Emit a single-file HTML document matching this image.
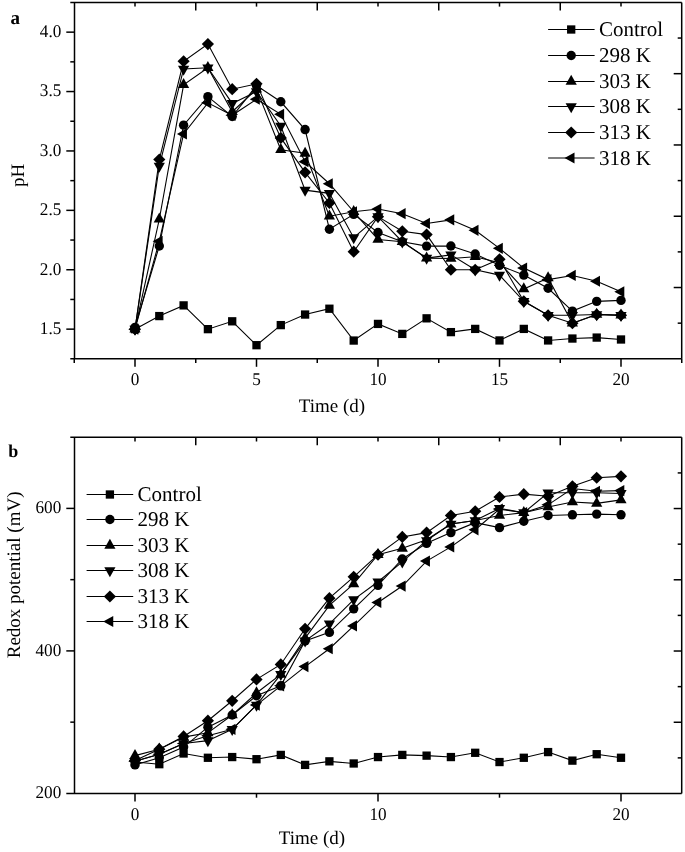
<!DOCTYPE html>
<html><head><meta charset="utf-8"><title>Figure</title>
<style>
html,body{margin:0;padding:0;background:#fff;}
body{width:685px;height:852px;overflow:hidden;font-family:"Liberation Serif",serif;}
svg{display:block;will-change:transform;}
text{text-rendering:geometricPrecision;}
text{font-family:"Liberation Serif",serif;}
</style></head><body>
<svg width="685" height="852" viewBox="0 0 685 852">
<rect width="685" height="852" fill="#fff"/>
<g stroke="#000" fill="#000" font-family="Liberation Serif, serif">
<polyline fill="none" stroke-width="1.1" points="135,329.15 159.3,316.08 183.6,305.39 207.9,329.15 232.2,321.31 256.5,345.19 280.8,325.11 305.1,314.54 329.4,308.72 353.7,340.55 378,323.92 402.3,333.9 426.6,318.34 450.9,332.12 475.2,328.91 499.5,340.44 523.8,328.91 548.1,340.44 572.4,338.54 596.7,337.58 621,339.49"/>
<polyline fill="none" stroke-width="1.1" points="135,327.37 159.3,245.99 183.6,125.17 207.9,96.66 232.2,116.5 256.5,85.61 280.8,101.77 305.1,129.57 329.4,229.24 353.7,214.39 378,232.45 402.3,241.71 426.6,246.11 450.9,245.99 475.2,254.07 499.5,265.35 523.8,275.1 548.1,288.28 572.4,311.09 596.7,301.35 621,300.4"/>
<polyline fill="none" stroke-width="1.1" points="135,329.15 159.3,219.26 183.6,84.78 207.9,67.79 232.2,111.75 256.5,89.17 280.8,149.76 305.1,153.33 329.4,216.17 353.7,211.78 378,239.46 402.3,241.71 426.6,258.11 450.9,258.46 475.2,256.68 499.5,262.62 523.8,289 548.1,277.95 572.4,323.21 596.7,314.54 621,315.25"/>
<polyline fill="none" stroke-width="1.1" points="135,329.15 159.3,166.04 183.6,68.98 207.9,67.79 232.2,103.43 256.5,91.55 280.8,126 305.1,190.15 329.4,193.36 353.7,237.67 378,216.65 402.3,241.71 426.6,258.11 450.9,254.9 475.2,269.75 499.5,275.1 523.8,301.35 548.1,315.25 572.4,315.25 596.7,314.54 621,315.25"/>
<polyline fill="none" stroke-width="1.1" points="135,329.15 159.3,159.5 183.6,61.26 207.9,44.03 232.2,89.17 256.5,83.83 280.8,137.88 305.1,172.33 329.4,202.98 353.7,251.69 378,216.65 402.3,231.26 426.6,234.59 450.9,269.75 475.2,269.75 499.5,259.3 523.8,301.35 548.1,315.25 572.4,323.21 596.7,314.54 621,315.25"/>
<polyline fill="none" stroke-width="1.1" points="135,329.15 159.3,241.24 183.6,133.96 207.9,102.84 232.2,115.31 256.5,99.27 280.8,114.36 305.1,161.64 329.4,183.74 353.7,211.78 378,209.04 402.3,213.68 426.6,223.42 450.9,219.85 475.2,230.31 499.5,248.37 523.8,268.09 548.1,279.61 572.4,275.45 596.7,281.27 621,291.73"/>
<g stroke="none">
<rect x="130.85" y="325" width="8.3" height="8.3"/>
<rect x="155.15" y="311.93" width="8.3" height="8.3"/>
<rect x="179.45" y="301.24" width="8.3" height="8.3"/>
<rect x="203.75" y="325" width="8.3" height="8.3"/>
<rect x="228.05" y="317.16" width="8.3" height="8.3"/>
<rect x="252.35" y="341.04" width="8.3" height="8.3"/>
<rect x="276.65" y="320.96" width="8.3" height="8.3"/>
<rect x="300.95" y="310.39" width="8.3" height="8.3"/>
<rect x="325.25" y="304.57" width="8.3" height="8.3"/>
<rect x="349.55" y="336.4" width="8.3" height="8.3"/>
<rect x="373.85" y="319.77" width="8.3" height="8.3"/>
<rect x="398.15" y="329.75" width="8.3" height="8.3"/>
<rect x="422.45" y="314.19" width="8.3" height="8.3"/>
<rect x="446.75" y="327.97" width="8.3" height="8.3"/>
<rect x="471.05" y="324.76" width="8.3" height="8.3"/>
<rect x="495.35" y="336.29" width="8.3" height="8.3"/>
<rect x="519.65" y="324.76" width="8.3" height="8.3"/>
<rect x="543.95" y="336.29" width="8.3" height="8.3"/>
<rect x="568.25" y="334.39" width="8.3" height="8.3"/>
<rect x="592.55" y="333.43" width="8.3" height="8.3"/>
<rect x="616.85" y="335.34" width="8.3" height="8.3"/>
</g>
<g stroke="none">
<circle cx="135" cy="327.37" r="4.7"/>
<circle cx="159.3" cy="245.99" r="4.7"/>
<circle cx="183.6" cy="125.17" r="4.7"/>
<circle cx="207.9" cy="96.66" r="4.7"/>
<circle cx="232.2" cy="116.5" r="4.7"/>
<circle cx="256.5" cy="85.61" r="4.7"/>
<circle cx="280.8" cy="101.77" r="4.7"/>
<circle cx="305.1" cy="129.57" r="4.7"/>
<circle cx="329.4" cy="229.24" r="4.7"/>
<circle cx="353.7" cy="214.39" r="4.7"/>
<circle cx="378" cy="232.45" r="4.7"/>
<circle cx="402.3" cy="241.71" r="4.7"/>
<circle cx="426.6" cy="246.11" r="4.7"/>
<circle cx="450.9" cy="245.99" r="4.7"/>
<circle cx="475.2" cy="254.07" r="4.7"/>
<circle cx="499.5" cy="265.35" r="4.7"/>
<circle cx="523.8" cy="275.1" r="4.7"/>
<circle cx="548.1" cy="288.28" r="4.7"/>
<circle cx="572.4" cy="311.09" r="4.7"/>
<circle cx="596.7" cy="301.35" r="4.7"/>
<circle cx="621" cy="300.4" r="4.7"/>
</g>
<g stroke="none">
<polygon points="135,322.48 140.6,332.48 129.4,332.48"/>
<polygon points="159.3,212.59 164.9,222.59 153.7,222.59"/>
<polygon points="183.6,78.11 189.2,88.11 178,88.11"/>
<polygon points="207.9,61.12 213.5,71.12 202.3,71.12"/>
<polygon points="232.2,105.08 237.8,115.08 226.6,115.08"/>
<polygon points="256.5,82.51 262.1,92.51 250.9,92.51"/>
<polygon points="280.8,143.1 286.4,153.1 275.2,153.1"/>
<polygon points="305.1,146.66 310.7,156.66 299.5,156.66"/>
<polygon points="329.4,209.5 335,219.5 323.8,219.5"/>
<polygon points="353.7,205.11 359.3,215.11 348.1,215.11"/>
<polygon points="378,232.79 383.6,242.79 372.4,242.79"/>
<polygon points="402.3,235.05 407.9,245.05 396.7,245.05"/>
<polygon points="426.6,251.44 432.2,261.44 421,261.44"/>
<polygon points="450.9,251.8 456.5,261.8 445.3,261.8"/>
<polygon points="475.2,250.02 480.8,260.02 469.6,260.02"/>
<polygon points="499.5,255.96 505.1,265.96 493.9,265.96"/>
<polygon points="523.8,282.33 529.4,292.33 518.2,292.33"/>
<polygon points="548.1,271.28 553.7,281.28 542.5,281.28"/>
<polygon points="572.4,316.54 578,326.54 566.8,326.54"/>
<polygon points="596.7,307.87 602.3,317.87 591.1,317.87"/>
<polygon points="621,308.58 626.6,318.58 615.4,318.58"/>
</g>
<g stroke="none">
<polygon points="129.4,325.82 140.6,325.82 135,335.82"/>
<polygon points="153.7,162.7 164.9,162.7 159.3,172.7"/>
<polygon points="178,65.64 189.2,65.64 183.6,75.64"/>
<polygon points="202.3,64.46 213.5,64.46 207.9,74.46"/>
<polygon points="226.6,100.1 237.8,100.1 232.2,110.1"/>
<polygon points="250.9,88.22 262.1,88.22 256.5,98.22"/>
<polygon points="275.2,122.67 286.4,122.67 280.8,132.67"/>
<polygon points="299.5,186.82 310.7,186.82 305.1,196.82"/>
<polygon points="323.8,190.03 335,190.03 329.4,200.03"/>
<polygon points="348.1,234.34 359.3,234.34 353.7,244.34"/>
<polygon points="372.4,213.31 383.6,213.31 378,223.31"/>
<polygon points="396.7,238.38 407.9,238.38 402.3,248.38"/>
<polygon points="421,254.77 432.2,254.77 426.6,264.77"/>
<polygon points="445.3,251.57 456.5,251.57 450.9,261.57"/>
<polygon points="469.6,266.42 480.8,266.42 475.2,276.42"/>
<polygon points="493.9,271.76 505.1,271.76 499.5,281.76"/>
<polygon points="518.2,298.02 529.4,298.02 523.8,308.02"/>
<polygon points="542.5,311.92 553.7,311.92 548.1,321.92"/>
<polygon points="566.8,311.92 578,311.92 572.4,321.92"/>
<polygon points="591.1,311.2 602.3,311.2 596.7,321.2"/>
<polygon points="615.4,311.92 626.6,311.92 621,321.92"/>
</g>
<g stroke="none">
<polygon points="135,323.05 141.1,329.15 135,335.25 128.9,329.15"/>
<polygon points="159.3,153.4 165.4,159.5 159.3,165.6 153.2,159.5"/>
<polygon points="183.6,55.16 189.7,61.26 183.6,67.36 177.5,61.26"/>
<polygon points="207.9,37.93 214,44.03 207.9,50.13 201.8,44.03"/>
<polygon points="232.2,83.07 238.3,89.17 232.2,95.27 226.1,89.17"/>
<polygon points="256.5,77.73 262.6,83.83 256.5,89.93 250.4,83.83"/>
<polygon points="280.8,131.78 286.9,137.88 280.8,143.98 274.7,137.88"/>
<polygon points="305.1,166.23 311.2,172.33 305.1,178.43 299,172.33"/>
<polygon points="329.4,196.88 335.5,202.98 329.4,209.08 323.3,202.98"/>
<polygon points="353.7,245.59 359.8,251.69 353.7,257.79 347.6,251.69"/>
<polygon points="378,210.55 384.1,216.65 378,222.75 371.9,216.65"/>
<polygon points="402.3,225.16 408.4,231.26 402.3,237.36 396.2,231.26"/>
<polygon points="426.6,228.49 432.7,234.59 426.6,240.69 420.5,234.59"/>
<polygon points="450.9,263.65 457,269.75 450.9,275.85 444.8,269.75"/>
<polygon points="475.2,263.65 481.3,269.75 475.2,275.85 469.1,269.75"/>
<polygon points="499.5,253.2 505.6,259.3 499.5,265.4 493.4,259.3"/>
<polygon points="523.8,295.25 529.9,301.35 523.8,307.45 517.7,301.35"/>
<polygon points="548.1,309.15 554.2,315.25 548.1,321.35 542,315.25"/>
<polygon points="572.4,317.11 578.5,323.21 572.4,329.31 566.3,323.21"/>
<polygon points="596.7,308.44 602.8,314.54 596.7,320.64 590.6,314.54"/>
<polygon points="621,309.15 627.1,315.25 621,321.35 614.9,315.25"/>
</g>
<g stroke="none">
<polygon points="128.33,329.15 138.33,323.55 138.33,334.75"/>
<polygon points="152.63,241.24 162.63,235.64 162.63,246.84"/>
<polygon points="176.93,133.96 186.93,128.36 186.93,139.56"/>
<polygon points="201.23,102.84 211.23,97.24 211.23,108.44"/>
<polygon points="225.53,115.31 235.53,109.71 235.53,120.91"/>
<polygon points="249.83,99.27 259.83,93.67 259.83,104.87"/>
<polygon points="274.13,114.36 284.13,108.76 284.13,119.96"/>
<polygon points="298.43,161.64 308.43,156.04 308.43,167.24"/>
<polygon points="322.73,183.74 332.73,178.14 332.73,189.34"/>
<polygon points="347.03,211.78 357.03,206.18 357.03,217.38"/>
<polygon points="371.33,209.04 381.33,203.44 381.33,214.64"/>
<polygon points="395.63,213.68 405.63,208.08 405.63,219.28"/>
<polygon points="419.93,223.42 429.93,217.82 429.93,229.02"/>
<polygon points="444.23,219.85 454.23,214.25 454.23,225.45"/>
<polygon points="468.53,230.31 478.53,224.71 478.53,235.91"/>
<polygon points="492.83,248.37 502.83,242.77 502.83,253.97"/>
<polygon points="517.13,268.09 527.13,262.49 527.13,273.69"/>
<polygon points="541.43,279.61 551.43,274.01 551.43,285.21"/>
<polygon points="565.73,275.45 575.73,269.85 575.73,281.05"/>
<polygon points="590.03,281.27 600.03,275.67 600.03,286.87"/>
<polygon points="614.33,291.73 624.33,286.13 624.33,297.33"/>
</g>
<line x1="74.5" y1="2.4" x2="74.5" y2="358.8" stroke-width="1.5"/>
<line x1="681.7" y1="2.4" x2="681.7" y2="358.8" stroke-width="1.5"/>
<line x1="70.3" y1="2.4" x2="681.7" y2="2.4" stroke-width="1.5"/>
<line x1="70.3" y1="358.8" x2="681.7" y2="358.8" stroke-width="1.5"/>
<line x1="66.3" y1="329.15" x2="74.5" y2="329.15" stroke-width="1.5"/>
<line x1="70.3" y1="299.45" x2="74.5" y2="299.45" stroke-width="1.5"/>
<line x1="66.3" y1="269.75" x2="74.5" y2="269.75" stroke-width="1.5"/>
<line x1="70.3" y1="240.05" x2="74.5" y2="240.05" stroke-width="1.5"/>
<line x1="66.3" y1="210.35" x2="74.5" y2="210.35" stroke-width="1.5"/>
<line x1="70.3" y1="180.65" x2="74.5" y2="180.65" stroke-width="1.5"/>
<line x1="66.3" y1="150.95" x2="74.5" y2="150.95" stroke-width="1.5"/>
<line x1="70.3" y1="121.25" x2="74.5" y2="121.25" stroke-width="1.5"/>
<line x1="66.3" y1="91.55" x2="74.5" y2="91.55" stroke-width="1.5"/>
<line x1="70.3" y1="61.85" x2="74.5" y2="61.85" stroke-width="1.5"/>
<line x1="66.3" y1="32.15" x2="74.5" y2="32.15" stroke-width="1.5"/>
<line x1="74.25" y1="358.8" x2="74.25" y2="363" stroke-width="1.5"/>
<line x1="135" y1="358.8" x2="135" y2="366.8" stroke-width="1.5"/>
<line x1="195.75" y1="358.8" x2="195.75" y2="363" stroke-width="1.5"/>
<line x1="256.5" y1="358.8" x2="256.5" y2="366.8" stroke-width="1.5"/>
<line x1="317.25" y1="358.8" x2="317.25" y2="363" stroke-width="1.5"/>
<line x1="378" y1="358.8" x2="378" y2="366.8" stroke-width="1.5"/>
<line x1="438.75" y1="358.8" x2="438.75" y2="363" stroke-width="1.5"/>
<line x1="499.5" y1="358.8" x2="499.5" y2="366.8" stroke-width="1.5"/>
<line x1="560.25" y1="358.8" x2="560.25" y2="363" stroke-width="1.5"/>
<line x1="621" y1="358.8" x2="621" y2="366.8" stroke-width="1.5"/>
<line x1="681.75" y1="358.8" x2="681.75" y2="363" stroke-width="1.5"/>
<line x1="135" y1="2.4" x2="135" y2="6.6" stroke-width="1.5"/>
<line x1="195.75" y1="2.4" x2="195.75" y2="10.4" stroke-width="1.5"/>
<line x1="256.5" y1="2.4" x2="256.5" y2="6.6" stroke-width="1.5"/>
<line x1="317.25" y1="2.4" x2="317.25" y2="10.4" stroke-width="1.5"/>
<line x1="378" y1="2.4" x2="378" y2="6.6" stroke-width="1.5"/>
<line x1="438.75" y1="2.4" x2="438.75" y2="10.4" stroke-width="1.5"/>
<line x1="499.5" y1="2.4" x2="499.5" y2="6.6" stroke-width="1.5"/>
<line x1="560.25" y1="2.4" x2="560.25" y2="10.4" stroke-width="1.5"/>
<line x1="621" y1="2.4" x2="621" y2="6.6" stroke-width="1.5"/>
<line x1="677.7" y1="38.04" x2="681.7" y2="38.04" stroke-width="1.5"/>
<line x1="673.7" y1="73.68" x2="681.7" y2="73.68" stroke-width="1.5"/>
<line x1="677.7" y1="109.32" x2="681.7" y2="109.32" stroke-width="1.5"/>
<line x1="673.7" y1="144.96" x2="681.7" y2="144.96" stroke-width="1.5"/>
<line x1="677.7" y1="180.6" x2="681.7" y2="180.6" stroke-width="1.5"/>
<line x1="673.7" y1="216.24" x2="681.7" y2="216.24" stroke-width="1.5"/>
<line x1="677.7" y1="251.88" x2="681.7" y2="251.88" stroke-width="1.5"/>
<line x1="673.7" y1="287.52" x2="681.7" y2="287.52" stroke-width="1.5"/>
<line x1="677.7" y1="323.16" x2="681.7" y2="323.16" stroke-width="1.5"/>
<g stroke="none">
<text x="0" y="0" font-size="17.2" text-anchor="end" font-weight="normal" stroke="none" transform="translate(61.3 333.95) scale(1 1.04)">1.5</text>
<text x="0" y="0" font-size="17.2" text-anchor="end" font-weight="normal" stroke="none" transform="translate(61.3 274.55) scale(1 1.04)">2.0</text>
<text x="0" y="0" font-size="17.2" text-anchor="end" font-weight="normal" stroke="none" transform="translate(61.3 215.15) scale(1 1.04)">2.5</text>
<text x="0" y="0" font-size="17.2" text-anchor="end" font-weight="normal" stroke="none" transform="translate(61.3 155.75) scale(1 1.04)">3.0</text>
<text x="0" y="0" font-size="17.2" text-anchor="end" font-weight="normal" stroke="none" transform="translate(61.3 96.35) scale(1 1.04)">3.5</text>
<text x="0" y="0" font-size="17.2" text-anchor="end" font-weight="normal" stroke="none" transform="translate(61.3 36.95) scale(1 1.04)">4.0</text>
<text x="0" y="0" font-size="17.2" text-anchor="middle" font-weight="normal" stroke="none" transform="translate(135 385.4) scale(1 1.04)">0</text>
<text x="0" y="0" font-size="17.2" text-anchor="middle" font-weight="normal" stroke="none" transform="translate(256.5 385.4) scale(1 1.04)">5</text>
<text x="0" y="0" font-size="17.2" text-anchor="middle" font-weight="normal" stroke="none" transform="translate(378 385.4) scale(1 1.04)">10</text>
<text x="0" y="0" font-size="17.2" text-anchor="middle" font-weight="normal" stroke="none" transform="translate(499.5 385.4) scale(1 1.04)">15</text>
<text x="0" y="0" font-size="17.2" text-anchor="middle" font-weight="normal" stroke="none" transform="translate(621 385.4) scale(1 1.04)">20</text>
<text x="332" y="411.7" font-size="19" text-anchor="middle" font-weight="normal" stroke="none" >Time (d)</text>
<text x="24" y="175.3" font-size="19" text-anchor="middle" font-weight="normal" stroke="none" transform="rotate(-90 24.0 175.3)">pH</text>
<text x="10.5" y="24.1" font-size="19" text-anchor="start" font-weight="bold" stroke="none" >a</text>
</g>
<line x1="548.1" y1="29.5" x2="594.6" y2="29.5" stroke-width="1.1"/>
<g stroke="none"><rect x="567.05" y="25.35" width="8.3" height="8.3"/></g>
<text x="599" y="36.1" font-size="21" text-anchor="start" font-weight="normal" stroke="none" >Control</text>
<line x1="548.1" y1="55.5" x2="594.6" y2="55.5" stroke-width="1.1"/>
<g stroke="none"><circle cx="571.2" cy="55.5" r="4.7"/></g>
<text x="599" y="62.1" font-size="21" text-anchor="start" font-weight="normal" stroke="none" >298 K</text>
<line x1="548.1" y1="81.5" x2="594.6" y2="81.5" stroke-width="1.1"/>
<g stroke="none"><polygon points="571.2,74.83 576.8,84.83 565.6,84.83"/></g>
<text x="599" y="88.1" font-size="21" text-anchor="start" font-weight="normal" stroke="none" >303 K</text>
<line x1="548.1" y1="106.5" x2="594.6" y2="106.5" stroke-width="1.1"/>
<g stroke="none"><polygon points="565.6,103.17 576.8,103.17 571.2,113.17"/></g>
<text x="599" y="113.1" font-size="21" text-anchor="start" font-weight="normal" stroke="none" >308 K</text>
<line x1="548.1" y1="132.5" x2="594.6" y2="132.5" stroke-width="1.1"/>
<g stroke="none"><polygon points="571.2,126.4 577.3,132.5 571.2,138.6 565.1,132.5"/></g>
<text x="599" y="139.1" font-size="21" text-anchor="start" font-weight="normal" stroke="none" >313 K</text>
<line x1="548.1" y1="158" x2="594.6" y2="158" stroke-width="1.1"/>
<g stroke="none"><polygon points="564.53,158 574.53,152.4 574.53,163.6"/></g>
<text x="599" y="164.6" font-size="21" text-anchor="start" font-weight="normal" stroke="none" >318 K</text>
<polyline fill="none" stroke-width="1.1" points="135,762.05 159.3,764.19 183.6,753.5 207.9,757.77 232.2,757.06 256.5,759.2 280.8,754.92 305.1,764.9 329.4,761.34 353.7,763.48 378,757.06 402.3,754.92 426.6,755.64 450.9,757.06 475.2,752.79 499.5,762.05 523.8,757.77 548.1,752.08 572.4,760.62 596.7,754.21 621,757.77"/>
<polyline fill="none" stroke-width="1.1" points="135,764.9 159.3,757.77 183.6,747.09 207.9,727.14 232.2,715.02 256.5,695.79 280.8,685.81 305.1,640.92 329.4,632.38 353.7,608.86 378,585.35 402.3,558.99 426.6,543.31 450.9,532.62 475.2,522.65 499.5,527.64 523.8,521.23 548.1,515.52 572.4,514.81 596.7,514.1 621,514.81"/>
<polyline fill="none" stroke-width="1.1" points="135,755.64 159.3,749.23 183.6,737.11 207.9,732.84 232.2,715.02 256.5,692.94 280.8,674.41 305.1,638.08 329.4,605.3 353.7,583.92 378,554.71 402.3,548.3 426.6,539.75 450.9,524.07 475.2,520.51 499.5,515.52 523.8,512.67 548.1,506.97 572.4,501.99 596.7,503.41 621,499.85"/>
<polyline fill="none" stroke-width="1.1" points="135,761.34 159.3,754.21 183.6,743.52 207.9,740.67 232.2,729.27 256.5,705.05 280.8,674.41 305.1,640.92 329.4,623.82 353.7,599.6 378,581.79 402.3,561.84 426.6,540.46 450.9,524.07 475.2,520.51 499.5,508.4 523.8,512.67 548.1,492.72 572.4,492.72 596.7,492.72 621,493.44"/>
<polyline fill="none" stroke-width="1.1" points="135,760.62 159.3,749.23 183.6,736.4 207.9,720.73 232.2,700.77 256.5,679.4 280.8,664.44 305.1,628.81 329.4,598.17 353.7,576.8 378,554.71 402.3,536.9 426.6,532.62 450.9,515.52 475.2,511.25 499.5,497 523.8,494.15 548.1,496.29 572.4,486.31 596.7,477.76 621,476.34"/>
<polyline fill="none" stroke-width="1.1" points="135,761.34 159.3,754.21 183.6,743.52 207.9,735.69 232.2,729.27 256.5,705.05 280.8,685.81 305.1,666.58 329.4,648.76 353.7,625.96 378,602.45 402.3,586.06 426.6,561.12 450.9,546.88 475.2,529.77 499.5,509.11 523.8,512.67 548.1,504.84 572.4,488.45 596.7,491.3 621,490.59"/>
<g stroke="none">
<rect x="130.85" y="757.9" width="8.3" height="8.3"/>
<rect x="155.15" y="760.04" width="8.3" height="8.3"/>
<rect x="179.45" y="749.35" width="8.3" height="8.3"/>
<rect x="203.75" y="753.62" width="8.3" height="8.3"/>
<rect x="228.05" y="752.91" width="8.3" height="8.3"/>
<rect x="252.35" y="755.05" width="8.3" height="8.3"/>
<rect x="276.65" y="750.77" width="8.3" height="8.3"/>
<rect x="300.95" y="760.75" width="8.3" height="8.3"/>
<rect x="325.25" y="757.19" width="8.3" height="8.3"/>
<rect x="349.55" y="759.33" width="8.3" height="8.3"/>
<rect x="373.85" y="752.91" width="8.3" height="8.3"/>
<rect x="398.15" y="750.77" width="8.3" height="8.3"/>
<rect x="422.45" y="751.49" width="8.3" height="8.3"/>
<rect x="446.75" y="752.91" width="8.3" height="8.3"/>
<rect x="471.05" y="748.64" width="8.3" height="8.3"/>
<rect x="495.35" y="757.9" width="8.3" height="8.3"/>
<rect x="519.65" y="753.62" width="8.3" height="8.3"/>
<rect x="543.95" y="747.93" width="8.3" height="8.3"/>
<rect x="568.25" y="756.48" width="8.3" height="8.3"/>
<rect x="592.55" y="750.06" width="8.3" height="8.3"/>
<rect x="616.85" y="753.62" width="8.3" height="8.3"/>
</g>
<g stroke="none">
<circle cx="135" cy="764.9" r="4.7"/>
<circle cx="159.3" cy="757.77" r="4.7"/>
<circle cx="183.6" cy="747.09" r="4.7"/>
<circle cx="207.9" cy="727.14" r="4.7"/>
<circle cx="232.2" cy="715.02" r="4.7"/>
<circle cx="256.5" cy="695.79" r="4.7"/>
<circle cx="280.8" cy="685.81" r="4.7"/>
<circle cx="305.1" cy="640.92" r="4.7"/>
<circle cx="329.4" cy="632.38" r="4.7"/>
<circle cx="353.7" cy="608.86" r="4.7"/>
<circle cx="378" cy="585.35" r="4.7"/>
<circle cx="402.3" cy="558.99" r="4.7"/>
<circle cx="426.6" cy="543.31" r="4.7"/>
<circle cx="450.9" cy="532.62" r="4.7"/>
<circle cx="475.2" cy="522.65" r="4.7"/>
<circle cx="499.5" cy="527.64" r="4.7"/>
<circle cx="523.8" cy="521.23" r="4.7"/>
<circle cx="548.1" cy="515.52" r="4.7"/>
<circle cx="572.4" cy="514.81" r="4.7"/>
<circle cx="596.7" cy="514.1" r="4.7"/>
<circle cx="621" cy="514.81" r="4.7"/>
</g>
<g stroke="none">
<polygon points="135,748.97 140.6,758.97 129.4,758.97"/>
<polygon points="159.3,742.56 164.9,752.56 153.7,752.56"/>
<polygon points="183.6,730.45 189.2,740.45 178,740.45"/>
<polygon points="207.9,726.17 213.5,736.17 202.3,736.17"/>
<polygon points="232.2,708.36 237.8,718.36 226.6,718.36"/>
<polygon points="256.5,686.27 262.1,696.27 250.9,696.27"/>
<polygon points="280.8,667.75 286.4,677.75 275.2,677.75"/>
<polygon points="305.1,631.41 310.7,641.41 299.5,641.41"/>
<polygon points="329.4,598.63 335,608.63 323.8,608.63"/>
<polygon points="353.7,577.26 359.3,587.26 348.1,587.26"/>
<polygon points="378,548.05 383.6,558.05 372.4,558.05"/>
<polygon points="402.3,541.63 407.9,551.63 396.7,551.63"/>
<polygon points="426.6,533.08 432.2,543.08 421,543.08"/>
<polygon points="450.9,517.41 456.5,527.41 445.3,527.41"/>
<polygon points="475.2,513.85 480.8,523.85 469.6,523.85"/>
<polygon points="499.5,508.86 505.1,518.86 493.9,518.86"/>
<polygon points="523.8,506.01 529.4,516.01 518.2,516.01"/>
<polygon points="548.1,500.31 553.7,510.31 542.5,510.31"/>
<polygon points="572.4,495.32 578,505.32 566.8,505.32"/>
<polygon points="596.7,496.75 602.3,506.75 591.1,506.75"/>
<polygon points="621,493.18 626.6,503.18 615.4,503.18"/>
</g>
<g stroke="none">
<polygon points="129.4,758 140.6,758 135,768"/>
<polygon points="153.7,750.88 164.9,750.88 159.3,760.88"/>
<polygon points="178,740.19 189.2,740.19 183.6,750.19"/>
<polygon points="202.3,737.34 213.5,737.34 207.9,747.34"/>
<polygon points="226.6,725.94 237.8,725.94 232.2,735.94"/>
<polygon points="250.9,701.72 262.1,701.72 256.5,711.72"/>
<polygon points="275.2,671.08 286.4,671.08 280.8,681.08"/>
<polygon points="299.5,637.59 310.7,637.59 305.1,647.59"/>
<polygon points="323.8,620.49 335,620.49 329.4,630.49"/>
<polygon points="348.1,596.27 359.3,596.27 353.7,606.27"/>
<polygon points="372.4,578.45 383.6,578.45 378,588.45"/>
<polygon points="396.7,558.5 407.9,558.5 402.3,568.5"/>
<polygon points="421,537.13 432.2,537.13 426.6,547.13"/>
<polygon points="445.3,520.74 456.5,520.74 450.9,530.74"/>
<polygon points="469.6,517.18 480.8,517.18 475.2,527.18"/>
<polygon points="493.9,505.07 505.1,505.07 499.5,515.07"/>
<polygon points="518.2,509.34 529.4,509.34 523.8,519.34"/>
<polygon points="542.5,489.39 553.7,489.39 548.1,499.39"/>
<polygon points="566.8,489.39 578,489.39 572.4,499.39"/>
<polygon points="591.1,489.39 602.3,489.39 596.7,499.39"/>
<polygon points="615.4,490.1 626.6,490.1 621,500.1"/>
</g>
<g stroke="none">
<polygon points="135,754.52 141.1,760.62 135,766.73 128.9,760.62"/>
<polygon points="159.3,743.12 165.4,749.23 159.3,755.33 153.2,749.23"/>
<polygon points="183.6,730.3 189.7,736.4 183.6,742.5 177.5,736.4"/>
<polygon points="207.9,714.62 214,720.73 207.9,726.83 201.8,720.73"/>
<polygon points="232.2,694.67 238.3,700.77 232.2,706.88 226.1,700.77"/>
<polygon points="256.5,673.3 262.6,679.4 256.5,685.5 250.4,679.4"/>
<polygon points="280.8,658.34 286.9,664.44 280.8,670.54 274.7,664.44"/>
<polygon points="305.1,622.71 311.2,628.81 305.1,634.91 299,628.81"/>
<polygon points="329.4,592.07 335.5,598.17 329.4,604.27 323.3,598.17"/>
<polygon points="353.7,570.7 359.8,576.8 353.7,582.9 347.6,576.8"/>
<polygon points="378,548.61 384.1,554.71 378,560.81 371.9,554.71"/>
<polygon points="402.3,530.8 408.4,536.9 402.3,543 396.2,536.9"/>
<polygon points="426.6,526.52 432.7,532.62 426.6,538.73 420.5,532.62"/>
<polygon points="450.9,509.42 457,515.52 450.9,521.62 444.8,515.52"/>
<polygon points="475.2,505.15 481.3,511.25 475.2,517.35 469.1,511.25"/>
<polygon points="499.5,490.9 505.6,497 499.5,503.1 493.4,497"/>
<polygon points="523.8,488.05 529.9,494.15 523.8,500.25 517.7,494.15"/>
<polygon points="548.1,490.19 554.2,496.29 548.1,502.39 542,496.29"/>
<polygon points="572.4,480.21 578.5,486.31 572.4,492.41 566.3,486.31"/>
<polygon points="596.7,471.66 602.8,477.76 596.7,483.86 590.6,477.76"/>
<polygon points="621,470.24 627.1,476.34 621,482.44 614.9,476.34"/>
</g>
<g stroke="none">
<polygon points="128.33,761.34 138.33,755.74 138.33,766.94"/>
<polygon points="152.63,754.21 162.63,748.61 162.63,759.81"/>
<polygon points="176.93,743.52 186.93,737.92 186.93,749.12"/>
<polygon points="201.23,735.69 211.23,730.09 211.23,741.29"/>
<polygon points="225.53,729.27 235.53,723.67 235.53,734.88"/>
<polygon points="249.83,705.05 259.83,699.45 259.83,710.65"/>
<polygon points="274.13,685.81 284.13,680.21 284.13,691.41"/>
<polygon points="298.43,666.58 308.43,660.98 308.43,672.18"/>
<polygon points="322.73,648.76 332.73,643.16 332.73,654.36"/>
<polygon points="347.03,625.96 357.03,620.36 357.03,631.56"/>
<polygon points="371.33,602.45 381.33,596.85 381.33,608.05"/>
<polygon points="395.63,586.06 405.63,580.46 405.63,591.66"/>
<polygon points="419.93,561.12 429.93,555.52 429.93,566.73"/>
<polygon points="444.23,546.88 454.23,541.27 454.23,552.48"/>
<polygon points="468.53,529.77 478.53,524.17 478.53,535.38"/>
<polygon points="492.83,509.11 502.83,503.51 502.83,514.71"/>
<polygon points="517.13,512.67 527.13,507.07 527.13,518.27"/>
<polygon points="541.43,504.84 551.43,499.24 551.43,510.44"/>
<polygon points="565.73,488.45 575.73,482.85 575.73,494.05"/>
<polygon points="590.03,491.3 600.03,485.7 600.03,496.9"/>
<polygon points="614.33,490.59 624.33,484.99 624.33,496.19"/>
</g>
<line x1="74.5" y1="437.3" x2="74.5" y2="793.5" stroke-width="1.5"/>
<line x1="681.7" y1="437.3" x2="681.7" y2="793.5" stroke-width="1.5"/>
<line x1="70.3" y1="437.3" x2="681.7" y2="437.3" stroke-width="1.5"/>
<line x1="66.3" y1="793.5" x2="681.7" y2="793.5" stroke-width="1.5"/>
<line x1="70.3" y1="722.15" x2="74.5" y2="722.15" stroke-width="1.5"/>
<line x1="66.3" y1="650.9" x2="74.5" y2="650.9" stroke-width="1.5"/>
<line x1="70.3" y1="579.65" x2="74.5" y2="579.65" stroke-width="1.5"/>
<line x1="66.3" y1="508.4" x2="74.5" y2="508.4" stroke-width="1.5"/>
<line x1="135" y1="793.5" x2="135" y2="801.5" stroke-width="1.5"/>
<line x1="256.5" y1="793.5" x2="256.5" y2="797.7" stroke-width="1.5"/>
<line x1="378" y1="793.5" x2="378" y2="801.5" stroke-width="1.5"/>
<line x1="499.5" y1="793.5" x2="499.5" y2="797.7" stroke-width="1.5"/>
<line x1="621" y1="793.5" x2="621" y2="801.5" stroke-width="1.5"/>
<line x1="135" y1="437.3" x2="135" y2="441.5" stroke-width="1.5"/>
<line x1="195.75" y1="437.3" x2="195.75" y2="445.3" stroke-width="1.5"/>
<line x1="256.5" y1="437.3" x2="256.5" y2="441.5" stroke-width="1.5"/>
<line x1="317.25" y1="437.3" x2="317.25" y2="445.3" stroke-width="1.5"/>
<line x1="378" y1="437.3" x2="378" y2="441.5" stroke-width="1.5"/>
<line x1="438.75" y1="437.3" x2="438.75" y2="445.3" stroke-width="1.5"/>
<line x1="499.5" y1="437.3" x2="499.5" y2="441.5" stroke-width="1.5"/>
<line x1="560.25" y1="437.3" x2="560.25" y2="445.3" stroke-width="1.5"/>
<line x1="621" y1="437.3" x2="621" y2="441.5" stroke-width="1.5"/>
<line x1="677.7" y1="472.92" x2="681.7" y2="472.92" stroke-width="1.5"/>
<line x1="673.7" y1="508.54" x2="681.7" y2="508.54" stroke-width="1.5"/>
<line x1="677.7" y1="544.16" x2="681.7" y2="544.16" stroke-width="1.5"/>
<line x1="673.7" y1="579.78" x2="681.7" y2="579.78" stroke-width="1.5"/>
<line x1="677.7" y1="615.4" x2="681.7" y2="615.4" stroke-width="1.5"/>
<line x1="673.7" y1="651.02" x2="681.7" y2="651.02" stroke-width="1.5"/>
<line x1="677.7" y1="686.64" x2="681.7" y2="686.64" stroke-width="1.5"/>
<line x1="673.7" y1="722.26" x2="681.7" y2="722.26" stroke-width="1.5"/>
<line x1="677.7" y1="757.88" x2="681.7" y2="757.88" stroke-width="1.5"/>
<g stroke="none">
<text x="0" y="0" font-size="17.2" text-anchor="end" font-weight="normal" stroke="none" transform="translate(61.3 798.2) scale(1 1.04)">200</text>
<text x="0" y="0" font-size="17.2" text-anchor="end" font-weight="normal" stroke="none" transform="translate(61.3 655.7) scale(1 1.04)">400</text>
<text x="0" y="0" font-size="17.2" text-anchor="end" font-weight="normal" stroke="none" transform="translate(61.3 513.2) scale(1 1.04)">600</text>
<text x="0" y="0" font-size="17.2" text-anchor="middle" font-weight="normal" stroke="none" transform="translate(135 820.1) scale(1 1.04)">0</text>
<text x="0" y="0" font-size="17.2" text-anchor="middle" font-weight="normal" stroke="none" transform="translate(378 820.1) scale(1 1.04)">10</text>
<text x="0" y="0" font-size="17.2" text-anchor="middle" font-weight="normal" stroke="none" transform="translate(621 820.1) scale(1 1.04)">20</text>
<text x="312" y="844.2" font-size="19" text-anchor="middle" font-weight="normal" stroke="none" >Time (d)</text>
<text x="20.5" y="574.9" font-size="19" text-anchor="middle" font-weight="normal" stroke="none" transform="rotate(-90 20.5 574.9)">Redox potential (mV)</text>
<text x="8.2" y="456.9" font-size="18" text-anchor="start" font-weight="bold" stroke="none" >b</text>
</g>
<line x1="86.6" y1="494.5" x2="133.2" y2="494.5" stroke-width="1.1"/>
<g stroke="none"><rect x="105.75" y="490.35" width="8.3" height="8.3"/></g>
<text x="137.6" y="501.1" font-size="21" text-anchor="start" font-weight="normal" stroke="none" >Control</text>
<line x1="86.6" y1="519.5" x2="133.2" y2="519.5" stroke-width="1.1"/>
<g stroke="none"><circle cx="109.9" cy="519.5" r="4.7"/></g>
<text x="137.6" y="526.1" font-size="21" text-anchor="start" font-weight="normal" stroke="none" >298 K</text>
<line x1="86.6" y1="545.5" x2="133.2" y2="545.5" stroke-width="1.1"/>
<g stroke="none"><polygon points="109.9,538.83 115.5,548.83 104.3,548.83"/></g>
<text x="137.6" y="552.1" font-size="21" text-anchor="start" font-weight="normal" stroke="none" >303 K</text>
<line x1="86.6" y1="570.5" x2="133.2" y2="570.5" stroke-width="1.1"/>
<g stroke="none"><polygon points="104.3,567.17 115.5,567.17 109.9,577.17"/></g>
<text x="137.6" y="577.1" font-size="21" text-anchor="start" font-weight="normal" stroke="none" >308 K</text>
<line x1="86.6" y1="596.5" x2="133.2" y2="596.5" stroke-width="1.1"/>
<g stroke="none"><polygon points="109.9,590.4 116,596.5 109.9,602.6 103.8,596.5"/></g>
<text x="137.6" y="603.1" font-size="21" text-anchor="start" font-weight="normal" stroke="none" >313 K</text>
<line x1="86.6" y1="621.5" x2="133.2" y2="621.5" stroke-width="1.1"/>
<g stroke="none"><polygon points="103.23,621.5 113.23,615.9 113.23,627.1"/></g>
<text x="137.6" y="628.1" font-size="21" text-anchor="start" font-weight="normal" stroke="none" >318 K</text>
</g></svg>
</body></html>
